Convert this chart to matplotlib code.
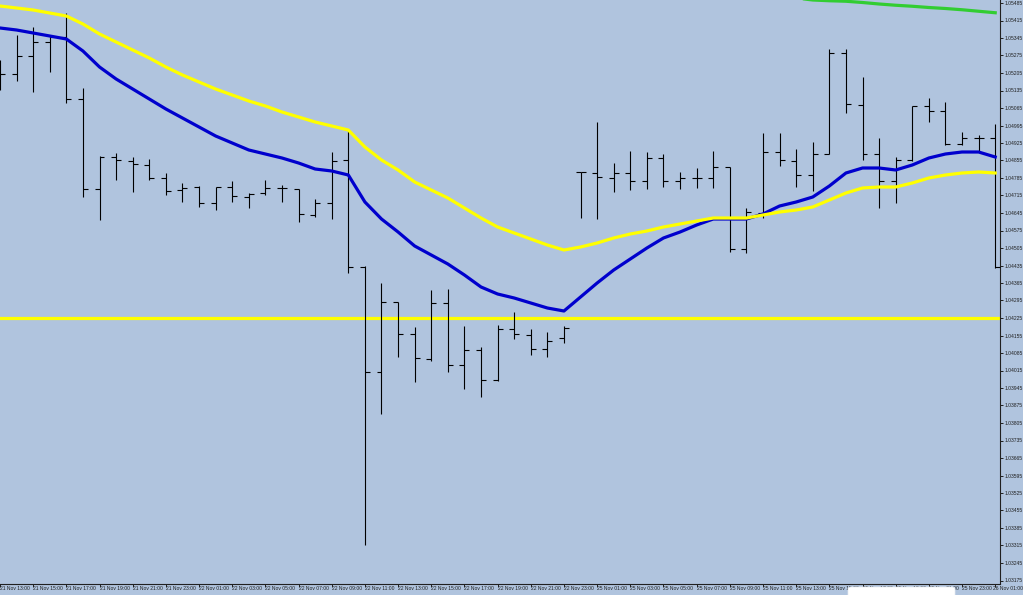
import matplotlib
matplotlib.use("Agg")
import matplotlib.pyplot as plt
from matplotlib.patches import FancyBboxPatch
import numpy as np

# ---- data (hourly OHLC bars, index 0 = 21 Nov 13:00) ----
opens = [1.05217, 1.05201, 1.05273, 1.05329, 1.05349, 1.05101, 1.04741, 1.04869, 1.04853, 1.04837,
         1.04785, 1.04737, 1.04749, 1.04685, 1.04749, 1.04709, 1.04725, 1.04745, 1.04741, 1.04637,
         1.04685, 1.04857, 1.04429, 1.04009, 1.04289, 1.04161, 1.04061, 1.04285, 1.04037, 1.04097,
         1.03977, 1.04181, 1.04157, 1.04101, 1.04145, 1.04809, 1.04805, 1.04785, 1.04805, 1.04773,
         1.04865, 1.04773, 1.04785, 1.04785, 1.04829, 1.04501, 1.04645, 1.04889, 1.04853, 1.04797,
         1.04881, 1.05285, 1.05077, 1.04881, 1.04773, 1.04857, 1.05073, 1.05053, 1.04921, 1.04945,
         1.04945]
highs = [1.05257, 1.05357, 1.05389, 1.05357, 1.05445, 1.05145, 1.04873, 1.04885, 1.04869, 1.04861,
         1.04805, 1.04765, 1.04753, 1.04749, 1.04773, 1.04725, 1.04777, 1.04757, 1.04741, 1.04701,
         1.04889, 1.04977, 1.04433, 1.04365, 1.04289, 1.04189, 1.04337, 1.04341, 1.04193, 1.04109,
         1.04197, 1.04249, 1.04181, 1.04169, 1.04193, 1.04809, 1.05009, 1.04845, 1.04893, 1.04889,
         1.04881, 1.04809, 1.04825, 1.04893, 1.04829, 1.04665, 1.04965, 1.04965, 1.04901, 1.04929,
         1.05301, 1.05301, 1.05189, 1.04945, 1.04869, 1.05073, 1.05105, 1.05089, 1.04969, 1.04957,
         1.05001]
lows = [1.05137, 1.05173, 1.05129, 1.05209, 1.05085, 1.04709, 1.04617, 1.04777, 1.04729, 1.04777,
        1.04717, 1.04689, 1.04669, 1.04657, 1.04689, 1.04665, 1.04717, 1.04689, 1.04609, 1.04629,
        1.04621, 1.04405, 1.03317, 1.03841, 1.04069, 1.03969, 1.04053, 1.04009, 1.03941, 1.03909,
        1.03973, 1.04141, 1.04077, 1.04069, 1.04125, 1.04625, 1.04621, 1.04729, 1.04737, 1.04741,
        1.04749, 1.04741, 1.04745, 1.04745, 1.04489, 1.04485, 1.04625, 1.04833, 1.04749, 1.04733,
        1.04881, 1.05045, 1.04857, 1.04665, 1.04685, 1.04853, 1.05009, 1.04917, 1.04917, 1.04889,
        1.04425]
closes = [1.05201, 1.05273, 1.05329, 1.05349, 1.05101, 1.04741, 1.04869, 1.04857, 1.04841, 1.04785,
          1.04733, 1.04745, 1.04685, 1.04749, 1.04713, 1.04721, 1.04745, 1.04745, 1.04641, 1.04685,
          1.04853, 1.04429, 1.04009, 1.04289, 1.04161, 1.04065, 1.04285, 1.04037, 1.04097, 1.03977,
          1.04181, 1.04161, 1.04101, 1.04133, 1.04185, 1.04809, 1.04789, 1.04805, 1.04773, 1.04865,
          1.04773, 1.04785, 1.04785, 1.04829, 1.04501, 1.04649, 1.04889, 1.04857, 1.04797, 1.04881,
          1.05285, 1.05081, 1.04881, 1.04773, 1.04857, 1.05073, 1.05053, 1.04921, 1.04945, 1.04945,
          1.04429]

ma_yellow = [1.05473, 1.05465, 1.05457, 1.05445, 1.05433, 1.05401, 1.05361, 1.05329, 1.05297, 1.05265,
             1.05229, 1.05197, 1.05169, 1.05141, 1.05117, 1.05093, 1.05073, 1.05049, 1.05029, 1.05009,
             1.04993, 1.04977, 1.04909, 1.04857, 1.04817, 1.04769, 1.04737, 1.04705, 1.04665, 1.04625,
             1.04589, 1.04565, 1.04541, 1.04517, 1.04497, 1.04509, 1.04525, 1.04545, 1.04561, 1.04573,
             1.04589, 1.04601, 1.04613, 1.04625, 1.04625, 1.04625, 1.04637, 1.04649, 1.04657, 1.04669,
             1.04697, 1.04725, 1.04745, 1.04749, 1.04749, 1.04765, 1.04785, 1.04797, 1.04805, 1.04809,
             1.04805]
ma_blue = [1.05385, 1.05377, 1.05365, 1.05353, 1.05341, 1.05293, 1.05229, 1.05181, 1.05141, 1.05101,
           1.05061, 1.05025, 1.04989, 1.04953, 1.04925, 1.04897, 1.04881, 1.04865, 1.04845, 1.04821,
           1.04813, 1.04797, 1.04689, 1.04621, 1.04569, 1.04513, 1.04477, 1.04441, 1.04397, 1.04349,
           1.04321, 1.04305, 1.04285, 1.04265, 1.04253, 1.04309, 1.04365, 1.04417, 1.04461, 1.04505,
           1.04545, 1.04569, 1.04597, 1.04621, 1.04621, 1.04621, 1.04641, 1.04673, 1.04689, 1.04709,
           1.04753, 1.04805, 1.04825, 1.04825, 1.04817, 1.04837, 1.04865, 1.04881, 1.04889, 1.04889,
           1.04869]
green_start = 48
ma_green = [1.05505, 1.05497, 1.05494, 1.05492, 1.05487, 1.05481, 1.05476, 1.05472, 1.05467, 1.05463,
            1.05458, 1.05452, 1.05446]
level_line = 1.04225

ytick_vals = [1.05485, 1.05415, 1.05345, 1.05275, 1.05205, 1.05135, 1.05065, 1.04995, 1.04925,
              1.04855, 1.04785, 1.04715, 1.04645, 1.04575, 1.04505, 1.04435, 1.04365, 1.04295,
              1.04225, 1.04155, 1.04085, 1.04015, 1.03945, 1.03875, 1.03805, 1.03735, 1.03665,
              1.03595, 1.03525, 1.03455, 1.03385, 1.03315, 1.03245, 1.03175]
xtick_idx = list(range(0, 61, 2))
xtick_labels = ["21 Nov 13:00", "21 Nov 15:00", "21 Nov 17:00", "21 Nov 19:00", "21 Nov 21:00",
                "21 Nov 23:00", "22 Nov 01:00", "22 Nov 03:00", "22 Nov 05:00", "22 Nov 07:00",
                "22 Nov 09:00", "22 Nov 11:00", "22 Nov 13:00", "22 Nov 15:00", "22 Nov 17:00",
                "22 Nov 19:00", "22 Nov 21:00", "22 Nov 23:00", "25 Nov 01:00", "25 Nov 03:00",
                "25 Nov 05:00", "25 Nov 07:00", "25 Nov 09:00", "25 Nov 11:00", "25 Nov 13:00",
                "25 Nov 15:00", "25 Nov 17:00", "25 Nov 19:00", "25 Nov 21:00", "25 Nov 23:00",
                "26 Nov 01:00"]

# ---- figure ----
BG = "#B0C4DE"
W, H = 1023, 595
fig = plt.figure(figsize=(W / 100, H / 100), dpi=100, facecolor=BG)
ax_l, ax_r, ax_b = 0, 1000, 584  # pixels
ax = fig.add_axes([ax_l / W, (H - ax_b) / H, (ax_r - ax_l) / W, ax_b / H])
ax.set_facecolor(BG)

x = np.arange(len(opens))
tw = 0.3
ax.vlines(x, lows, highs, color="black", lw=0.8, zorder=3, clip_on=False)
ax.hlines(opens, x - tw, x, color="black", lw=0.8, zorder=3, clip_on=False)
ax.hlines(closes, x, x + tw, color="black", lw=0.8, zorder=3, clip_on=False)

ax.plot(x, ma_blue, color="#0000CD", lw=2.3, zorder=4, solid_joinstyle="round")
ax.plot(x, ma_yellow, color="#FFFF00", lw=2.3, zorder=4, solid_joinstyle="round")
gx = np.arange(green_start, green_start + len(ma_green))
ax.plot(gx, ma_green, color="#32CD32", lw=2.3, zorder=4)
ax.axhline(level_line, color="#FFFF00", lw=2.3, zorder=2)

ax.set_xlim(2.6 / 16.63, 1002.6 / 16.63)
ax.set_ylim(1.05497 - 0.00004 * ax_b, 1.05497)

for s in ["top", "left"]:
    ax.spines[s].set_visible(False)
for s in ["right", "bottom"]:
    ax.spines[s].set_color("#202020")
    ax.spines[s].set_linewidth(0.8)

ax.yaxis.tick_right()
ax.set_yticks(ytick_vals)
ax.set_yticklabels([f"{v:.5f}" for v in ytick_vals], fontsize=3.6,
                   family="Liberation Sans", color="#202020")
ax.tick_params(axis="y", length=2.5, width=0.7, pad=1, colors="#202020")

ax.set_xticks(xtick_idx)
ax.set_xticklabels([])
ax.tick_params(axis="x", length=2.5, width=0.7, colors="#202020")
trans = ax.get_xaxis_transform()
for i, lab in zip(xtick_idx, xtick_labels):
    if i == xtick_idx[-1]:
        fig.text(1.0, (H - 589) / H, lab, ha="right", va="center", fontsize=3.6,
                 family="Liberation Sans", color="#202020")
    else:
        ax.text(i, -5 / ax_b, lab, transform=trans, ha="left", va="center", fontsize=3.6,
                family="Liberation Sans", color="#202020", clip_on=False)

# overlay box at the bottom
box = FancyBboxPatch((848 / W, -4 / H), 107 / W, 12 / H, boxstyle="round,pad=0,rounding_size=0.003",
                     transform=fig.transFigure, facecolor="white", edgecolor="#E8ECF2", lw=0.5,
                     zorder=10)
fig.patches.append(box)

fig.savefig("out.png", dpi=100, facecolor=BG)
